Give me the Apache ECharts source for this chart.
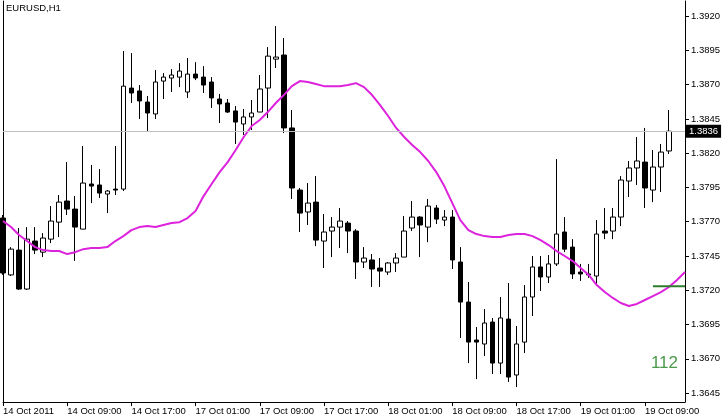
<!DOCTYPE html>
<html><head><meta charset="utf-8">
<script src="https://cdn.jsdelivr.net/npm/echarts@6/dist/echarts.min.js"></script>
<style>html,body{margin:0;padding:0;background:#fff}#c{width:722px;height:420px}</style>
</head><body><div id="c"></div><script>
// ---- data ----
const title = 'EURUSD,H1';
const tickIndexes = [0, 8, 16, 24, 32, 40, 48, 56, 64, 72, 80];
const tickLabels = ['14 Oct 2011','14 Oct 09:00','14 Oct 17:00','17 Oct 01:00','17 Oct 09:00','17 Oct 17:00','18 Oct 01:00','18 Oct 09:00','18 Oct 17:00','19 Oct 01:00','19 Oct 09:00'];
const priceTicks = [1.3645,1.3670,1.3695,1.3720,1.3745,1.3770,1.3795,1.3820,1.3845,1.3870,1.3895,1.3920];
const yMin = 1.36385, yMax = 1.39310;
const opens = [1.37727,1.37312,1.37493,1.37209,1.37559,1.37478,1.37573,1.37697,1.37851,1.37792,
 1.37646,1.37975,1.37968,1.37902,1.37938,1.37938,1.38675,1.38654,1.38573,1.38486,
 1.38726,1.38748,1.38755,1.38646,1.38777,1.38755,1.38719,1.38595,1.38566,1.38508,
 1.38413,1.38464,1.38500,1.38675,1.38886,1.38916,1.38384,1.37931,1.37771,1.37843,
 1.37559,1.37632,1.37661,1.37690,1.37632,1.37406,1.37421,1.37362,1.37333,1.37399,
 1.37442,1.37654,1.37734,1.37661,1.37800,1.37712,1.37734,1.37406,1.37114,1.36837,
 1.36808,1.36968,1.36669,1.36990,1.36582,1.36822,1.37151,1.37370,1.37297,1.37392,
 1.37625,1.37515,1.37333,1.37319,1.37304,1.37632,1.37632,1.37734,1.37997,1.38092,
 1.38135,1.37931,1.38099,1.38216];
const closes = [1.37326,1.37500,1.37209,1.37573,1.37493,1.37581,1.37705,1.37843,1.37792,1.37661,
 1.37982,1.37960,1.37909,1.37924,1.37931,1.38689,1.38639,1.38581,1.38493,1.38719,
 1.38755,1.38770,1.38799,1.38777,1.38748,1.38697,1.38603,1.38559,1.38500,1.38427,
 1.38464,1.38493,1.38668,1.38908,1.38901,1.38384,1.37946,1.37763,1.37836,1.37566,
 1.37625,1.37661,1.37705,1.37632,1.37406,1.37435,1.37355,1.37340,1.37399,1.37435,
 1.37632,1.37734,1.37676,1.37814,1.37719,1.37734,1.37421,1.37114,1.36822,1.36822,
 1.36961,1.36669,1.36998,1.36567,1.36808,1.37151,1.37370,1.37297,1.37392,1.37610,
 1.37500,1.37319,1.37319,1.37312,1.37610,1.37617,1.37734,1.38004,1.38092,1.38143,
 1.37946,1.38099,1.38208,1.38360];
const lows = [1.37312,1.37304,1.37202,1.37202,1.37464,1.37442,1.37544,1.37588,1.37749,1.37414,
 1.37646,1.37836,1.37873,1.37763,1.37895,1.37924,1.38566,1.38449,1.38362,1.38449,
 1.38595,1.38646,1.38682,1.38603,1.38733,1.38639,1.38530,1.38420,1.38493,1.38267,
 1.38333,1.38369,1.38500,1.38456,1.38821,1.38347,1.37866,1.37625,1.37676,1.37522,
 1.37362,1.37442,1.37508,1.37471,1.37282,1.37362,1.37224,1.37224,1.37312,1.37333,
 1.37442,1.37632,1.37442,1.37551,1.37683,1.37668,1.37355,1.36852,1.36669,1.36552,
 1.36720,1.36589,1.36589,1.36531,1.36494,1.36742,1.37012,1.37195,1.37253,1.37377,
 1.37478,1.37282,1.37268,1.37290,1.37231,1.37573,1.37573,1.37668,1.37880,1.37968,
 1.37800,1.37843,1.37917,1.38194];
const highs = [1.37749,1.37515,1.37654,1.37661,1.37661,1.37617,1.37814,1.37895,1.38135,1.37887,
 1.38252,1.38114,1.38084,1.37931,1.38252,1.38945,1.38930,1.38697,1.38617,1.38806,
 1.38784,1.38813,1.38857,1.38894,1.38864,1.38835,1.38755,1.38632,1.38595,1.38544,
 1.38522,1.38588,1.38770,1.38974,1.39127,1.39040,1.38515,1.37946,1.37982,1.38033,
 1.37756,1.37734,1.37800,1.37705,1.37646,1.37515,1.37464,1.37435,1.37406,1.37471,
 1.37741,1.37851,1.37741,1.37866,1.37822,1.37785,1.37785,1.37515,1.37260,1.36932,
 1.37063,1.36998,1.37151,1.37253,1.36939,1.37238,1.37450,1.37450,1.37457,1.38157,
 1.37734,1.37573,1.37392,1.37392,1.37712,1.37800,1.37800,1.38033,1.38143,1.38318,
 1.38384,1.38223,1.38267,1.38515];
const maValues = [1.37705,1.37661,1.37603,1.37559,1.37515,1.37493,1.37486,1.37486,1.37464,1.37478,
 1.37500,1.37508,1.37508,1.37515,1.37559,1.37595,1.37639,1.37661,1.37668,1.37661,
 1.37676,1.37690,1.37697,1.37727,1.37778,1.37887,1.37975,1.38062,1.38135,1.38223,
 1.38318,1.38398,1.38442,1.38500,1.38566,1.38624,1.38689,1.38726,1.38719,1.38704,
 1.38689,1.38689,1.38689,1.38697,1.38711,1.38682,1.38624,1.38551,1.38471,1.38384,
 1.38318,1.38260,1.38208,1.38143,1.38062,1.37960,1.37836,1.37712,1.37639,1.37610,
 1.37595,1.37588,1.37588,1.37603,1.37610,1.37610,1.37595,1.37566,1.37530,1.37486,
 1.37450,1.37413,1.37362,1.37312,1.37238,1.37187,1.37144,1.37107,1.37085,1.37100,
 1.37129,1.37158,1.37187,1.37224,1.37275,1.37333];
const levelValue = 1.3723, levelFrom = 81, levelTo = 85;
const lastPrice = 1.3836;
const counterText = '112';

// ---- categories (hourly bars, weekend skipped) ----
const categories = [];
(function(){
  const days = [['14 Oct', 1, 23], ['17 Oct', 0, 23], ['18 Oct', 0, 23], ['19 Oct', 0, 23]];
  for (const [d, h0, h1] of days) for (let h = h0; h <= h1; h++) categories.push(d + ' ' + String(h).padStart(2,'0') + ':00');
})();
const nCat = maValues.length;
const cats = categories.slice(0, nCat);

const ohlc = opens.map((o, i) => [o, closes[i], lows[i], highs[i]]);
const levelData = cats.map((c, i) => (i >= levelFrom && i <= levelTo) ? levelValue : null);
const labelMap = {};
tickIndexes.forEach((idx, j) => { labelMap[cats[idx]] = tickLabels[j]; });
const showTick = (i) => tickIndexes.indexOf(i) >= 0;

const FONT = 'Liberation Sans';
const chart = echarts.init(document.getElementById('c'), null, {renderer: 'canvas'});
chart.setOption({
  animation: false,
  backgroundColor: '#fff',
  grid: {left: 3, right: 37, top: 1, bottom: 18, containLabel: false, outerBoundsMode: 'none'},
  xAxis: {
    type: 'category', data: cats, boundaryGap: false,
    axisLine: {show: true, lineStyle: {color: '#000', width: 1}},
    axisTick: {show: true, interval: showTick, length: 4, lineStyle: {color: '#000'}},
    axisLabel: {interval: showTick, formatter: (v) => labelMap[v] || '', align: 'left', margin: 4,
      color: '#000', fontFamily: FONT, fontSize: 9.5, hideOverlap: false},
    splitLine: {show: false}
  },
  yAxis: [{
    type: 'value', position: 'right', min: yMin, max: yMax, scale: true,
    axisLine: {show: true, lineStyle: {color: '#000', width: 1}},
    axisTick: {show: true, length: 4, customValues: priceTicks, lineStyle: {color: '#000'}},
    axisLabel: {customValues: priceTicks, formatter: (v) => v.toFixed(4), margin: 6,
      color: '#000', fontFamily: FONT, fontSize: 9.5},
    splitLine: {show: false}
  }, {
    type: 'value', position: 'left', min: yMin, max: yMax,
    axisLine: {show: true, lineStyle: {color: '#000', width: 1}},
    axisTick: {show: false}, axisLabel: {show: false}, splitLine: {show: false}
  }],
  series: [{
    type: 'line', data: maValues, showSymbol: false, symbol: 'none', yAxisIndex: 0,
    lineStyle: {color: '#dd22dd', width: 2}, z: 4,
    markLine: {
      silent: true, symbol: ['none', 'none'], animation: false, precision: 5,
      lineStyle: {color: '#c0c0c0', width: 1, type: 'solid'},
      label: {show: true, position: 'end', distance: 1, formatter: () => lastPrice.toFixed(4),
        color: '#fff', backgroundColor: '#000', padding: [2, 3, 1, 3], fontFamily: FONT, fontSize: 9.5},
      data: [{yAxis: lastPrice}]
    }
  }, {
    type: 'candlestick', data: ohlc, barWidth: 5, yAxisIndex: 0,
    itemStyle: {color: '#fff', color0: '#000', borderColor: '#000', borderColor0: '#000', borderWidth: 1},
    z: 3
  }, {
    type: 'line', data: levelData, showSymbol: false, symbol: 'none', connectNulls: false, yAxisIndex: 0,
    lineStyle: {color: '#2e7d2e', width: 2}, z: 5
  }],
  graphic: [
    {type: 'text', left: 6, top: 3, style: {text: title, fill: '#000', font: '9.5px "Liberation Sans"'}},
    {type: 'text', right: 44, top: 355, style: {text: counterText, fill: '#4a9a4a', font: '17px "Liberation Sans"'}}
  ]
});
</script></body></html>
